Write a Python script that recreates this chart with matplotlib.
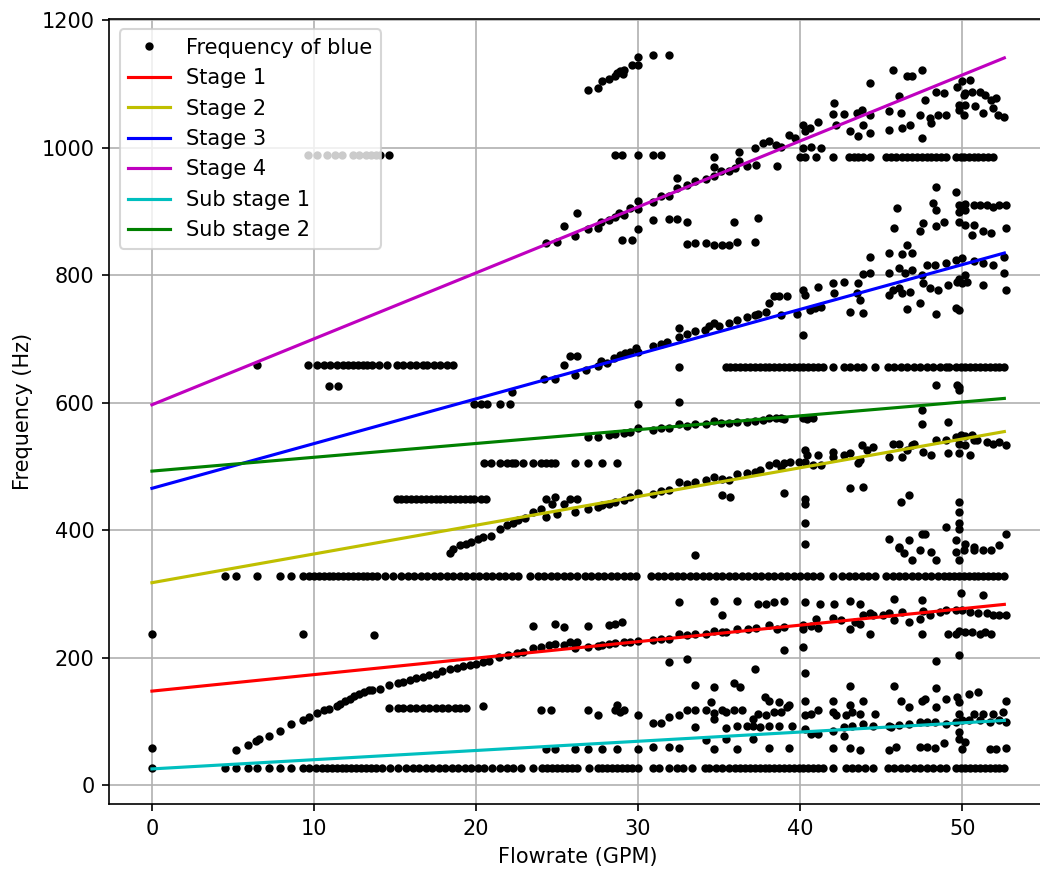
import matplotlib
matplotlib.use("Agg")
import matplotlib.pyplot as plt

# Fitted stage lines: flowrate at both ends and frequency there
line_x = [0.0, 52.6]
stage1 = [148, 284]
stage2 = [318, 555]
stage3 = [466, 835]
stage4 = [597, 1141]
sub_stage1 = [26, 102]
sub_stage2 = [493, 607]

# Steady tones picked up at many flowrates (frequency, flowrates)
tone_28_x = [0, 4.5, 5.2, 5.9, 6.5, 7.2, 7.9, 8.6, 9.3, 9.7, 10.1, 10.5, 10.8, 11.1, 11.4,
             11.7, 12.0, 12.3, 12.6, 12.9, 13.2, 13.5, 13.8, 14.2, 14.7, 15.2, 15.7, 16.1,
             16.5, 16.9, 17.3, 17.7, 18.1, 18.5, 18.9, 19.3, 19.7, 20.1, 20.5, 21.0, 21.5,
             21.9, 22.3, 22.8, 23.5, 24.1, 24.4, 24.7, 25.0, 25.3, 25.6, 25.9, 26.2, 27.0,
             27.5, 27.8, 28.1, 28.4, 28.7, 29.0, 29.3, 29.6, 30.0, 30.9, 31.3, 31.9, 32.4,
             32.8, 33.3, 34.1, 34.4, 34.8, 35.2, 35.6, 36.0, 36.3, 36.6, 36.9, 37.2, 37.5,
             37.8, 38.1, 38.4, 38.7, 39.0, 39.3, 39.6, 39.9, 40.2, 40.5, 40.8, 41.1, 41.4,
             42.0, 42.8, 43.2, 43.6, 44.0, 44.5, 45.4, 45.8, 46.2, 46.6, 47.0, 47.4, 47.8,
             48.2, 48.6, 49.0, 49.6, 49.9, 50.2, 50.5, 50.8, 51.1, 51.4, 51.7, 52.0, 52.3, 52.6]
tone_28_y = 28

tone_328_x = [4.5, 5.2, 6.5, 7.9, 8.6, 9.3, 9.7, 10.0, 10.3, 10.6, 10.9, 11.2, 11.5, 11.8,
              12.1, 12.4, 12.7, 13.0, 13.3, 13.6, 13.9, 14.4, 14.9, 15.4, 15.8, 16.2, 16.6,
              17.0, 17.4, 17.8, 18.2, 18.6, 19.0, 19.4, 19.8, 20.2, 20.6, 21.0, 21.4, 21.8,
              22.2, 22.6, 23.3, 23.8, 24.2, 24.6, 25.0, 25.4, 25.8, 26.2, 26.7, 27.1, 27.5,
              27.9, 28.3, 28.7, 29.1, 29.5, 29.9, 30.8, 31.2, 31.6, 32.0, 32.4, 32.8, 33.2,
              33.6, 34.0, 34.4, 34.8, 35.2, 35.6, 36.0, 36.4, 36.8, 37.2, 37.6, 38.0, 38.4,
              38.8, 39.2, 39.6, 40.0, 40.4, 40.8, 41.2, 42.0, 42.6, 43.0, 43.4, 43.8, 44.2,
              44.6, 45.3, 45.7, 46.1, 46.5, 46.9, 47.3, 47.7, 48.1, 48.5, 48.9, 49.2, 49.5,
              49.8, 50.1, 50.4, 50.7, 51.0, 51.3, 51.6, 51.9, 52.2, 52.6]
tone_328_y = 328

tone_121_x = [14.6, 15.2, 15.5, 15.9, 16.3, 16.7, 17.1, 17.5, 17.9, 18.3, 18.7, 19.0, 19.4]
tone_121_y = 121

tone_450_x = [15.1, 15.4, 15.7, 16.0, 16.3, 16.6, 16.9, 17.2, 17.5, 17.8, 18.1, 18.4, 18.7,
              19.0, 19.3, 19.6, 19.9, 20.3, 20.6]
tone_450_y = 450

tone_506_x = [20.5, 20.9, 21.5, 21.9, 22.2, 22.4, 22.9, 23.5, 24.0, 24.3, 24.6, 24.9, 26.1,
              26.9, 27.8, 28.7]
tone_506_y = 506

tone_599_x = [19.9, 20.3, 20.7, 21.5, 22.1, 30.0]
tone_599_y = 599

tone_656_x = [32.5, 35.4, 35.7, 36.0, 36.3, 36.6, 36.9, 37.2, 37.5, 37.8, 38.1, 38.4, 38.7,
              39.0, 39.3, 39.6, 39.9, 40.2, 40.5, 40.8, 41.1, 41.4, 42.0, 42.7, 43.1, 43.5,
              43.9, 44.6, 45.4, 45.8, 46.2, 46.6, 47.0, 47.4, 47.8, 48.2, 48.6, 49.0, 49.2,
              49.6, 49.9, 50.2, 50.5, 50.8, 51.1, 51.4, 51.7, 52.0, 52.3, 52.6]
tone_656_y = 656

tone_659_x = [6.5, 9.6, 10.2, 10.6, 11.0, 11.4, 11.8, 12.1, 12.4, 12.7, 13.0, 13.3, 13.6,
              14.0, 14.5, 15.1, 15.5, 15.9, 16.3, 16.7, 17.0, 17.4, 17.8, 18.2, 18.6]
tone_659_y = 659

tone_989_x = [9.6, 10.2, 10.8, 11.3, 11.7, 12.4, 12.8, 13.2, 13.5, 13.8, 14.1, 14.6,
              28.6, 29.0, 30.0, 30.9, 31.4]
tone_989_y = 989

tone_985_x = [34.7, 40.0, 40.3, 41.0, 42.0, 43.0, 43.3, 43.6, 43.9, 44.3, 45.3, 45.6, 45.9,
              46.3, 46.6, 46.9, 47.2, 47.5, 47.8, 48.1, 48.4, 48.7, 49.0, 49.6, 49.9, 50.1,
              50.4, 50.7, 51.0, 51.3, 51.6, 51.9]
tone_985_y = 985

# Tracked peaks (flowrate, frequency)
rising_pts = [(5.2, 56), (5.9, 63), (6.4, 70), (6.6, 73), (7.2, 77), (7.9, 86), (8.6, 96),
              (9.3, 102), (9.7, 107), (10.2, 114), (10.6, 118), (10.9, 120), (11.4, 125),
              (11.6, 128), (11.9, 132), (12.2, 136), (12.5, 140), (12.8, 144), (13.1, 147),
              (13.4, 149), (13.6, 149), (14.1, 152), (14.6, 157), (15.2, 161), (15.5, 163),
              (15.9, 166), (16.3, 168), (16.7, 170), (17.1, 173), (17.5, 175), (17.9, 179),
              (18.4, 182), (18.8, 184), (19.2, 187), (19.6, 189), (20.0, 191), (20.4, 194),
              (20.8, 196), (21.4, 201), (22.0, 205), (22.5, 208), (22.9, 210), (23.5, 215),
              (24.0, 217), (24.5, 220), (24.9, 222), (25.4, 221), (25.8, 225), (26.2, 225),
              (26.1, 215), (26.9, 217), (27.5, 219), (27.8, 221), (28.2, 222), (28.6, 224),
              (29.1, 225), (29.5, 225), (30.0, 226), (30.9, 228), (31.4, 229), (31.9, 230),
              (32.5, 237), (33.0, 236), (33.5, 237), (34.2, 237), (34.7, 242), (35.2, 240)]

stage1_pts = [(23.5, 250), (24.9, 254), (25.4, 249), (26.9, 250), (28.2, 252), (28.6, 254),
              (29.0, 257), (32.5, 288), (34.7, 289), (35.2, 267), (31.9, 194), (33.0, 198),
              (33.5, 158), (34.7, 154), (34.5, 131), (33.5, 362), (20.4, 125),
              (36.1, 290), (37.4, 284), (37.9, 285), (38.4, 287), (39.0, 289), (40.3, 287),
              (41.2, 284), (42.1, 285), (43.1, 289), (43.7, 284), (45.8, 293), (47.5, 291),
              (49.9, 302), (51.3, 299),
              (35.4, 240), (36.1, 246), (36.8, 246), (37.3, 247), (38.1, 251), (38.6, 245),
              (39.0, 249), (40.2, 251), (40.2, 246), (40.7, 250), (41.0, 261), (41.1, 247),
              (42.0, 263), (42.5, 259), (43.1, 246), (43.4, 257), (43.7, 254), (43.9, 268),
              (44.3, 270), (44.5, 267), (45.1, 267), (45.5, 270), (45.8, 259), (46.3, 272),
              (46.7, 257), (47.4, 261), (47.6, 273), (48.0, 267), (48.6, 272), (49.0, 275),
              (49.6, 275), (50.0, 275), (50.5, 272), (51.0, 270), (51.5, 270), (51.9, 268),
              (52.3, 267), (52.7, 267),
              (39.0, 212), (40.2, 217), (44.3, 237), (47.5, 237), (49.1, 237), (49.6, 238),
              (49.8, 243), (50.2, 240), (50.6, 240), (51.1, 238), (51.4, 240), (51.8, 237),
              (49.8, 205), (48.4, 196)]

low_pts = [(0, 59), (0, 238), (9.3, 237), (13.7, 236),
           (40.3, 177), (37.2, 182), (35.9, 160), (36.3, 154), (43.1, 156), (45.8, 156),
           (48.4, 153), (37.8, 139), (38.1, 133), (38.7, 131), (39.3, 126), (40.3, 133),
           (42.0, 133), (43.1, 126), (43.9, 133), (46.2, 133), (46.7, 123), (47.5, 133),
           (47.7, 136), (48.4, 123), (49.0, 135), (49.7, 139), (49.8, 131), (50.4, 144),
           (51.0, 146), (52.7, 132),
           (35.4, 115), (35.9, 118), (36.4, 118), (37.1, 105), (37.4, 112), (37.9, 110),
           (38.4, 115), (38.8, 115), (39.2, 123), (40.3, 110), (40.7, 112), (41.1, 118),
           (42.0, 115), (42.2, 110), (42.8, 110), (43.2, 115), (43.7, 112), (44.6, 112),
           (45.6, 92), (49.8, 112), (50.7, 112), (51.3, 112), (51.9, 112), (52.5, 115),
           (24.0, 118), (24.6, 118), (26.9, 118), (27.5, 110), (28.6, 118), (28.7, 126),
           (29.1, 118), (28.9, 115), (30.0, 110), (30.9, 98), (31.4, 98), (31.9, 107),
           (32.5, 110), (33.0, 118), (33.5, 118), (33.5, 92), (34.2, 118), (34.7, 113),
           (34.7, 105), (35.2, 118),
           (35.4, 90), (36.1, 94), (36.7, 94), (37.1, 94), (37.5, 92), (38.1, 94), (38.7, 94),
           (39.5, 94), (40.3, 88), (40.7, 81), (41.1, 81), (42.0, 86), (42.7, 92), (43.2, 94),
           (43.9, 97), (44.5, 94), (45.5, 94), (46.1, 95), (46.7, 97), (47.4, 99), (47.8, 99),
           (48.3, 99), (49.0, 97), (49.6, 100), (50.0, 102), (50.4, 102), (51.1, 102),
           (51.7, 99), (52.3, 102), (52.7, 100),
           (49.8, 73), (50.2, 68), (50.0, 57), (49.8, 84),
           (35.4, 73), (36.1, 58), (37.1, 73), (38.1, 59), (39.3, 59), (42.7, 78), (42.0, 59),
           (43.1, 59), (43.7, 55), (45.5, 55), (45.9, 60), (47.4, 60), (47.8, 60), (48.3, 59),
           (48.9, 67), (51.7, 57), (52.1, 57), (52.7, 59),
           (24.3, 58), (24.9, 58), (26.1, 58), (26.9, 58), (27.8, 58), (28.7, 58), (30.0, 58),
           (30.9, 60), (31.9, 60), (32.5, 59), (34.2, 72), (34.7, 58)]

mid_pts = [(46.1, 372), (46.4, 364), (46.9, 353), (47.4, 369), (48.1, 366), (48.4, 353),
           (49.6, 366), (49.8, 353), (50.1, 369), (50.7, 369), (51.3, 369), (51.8, 369),
           (52.3, 377), (45.5, 387), (46.1, 374), (46.7, 385), (47.5, 395), (47.7, 395),
           (49.0, 405), (49.6, 385), (50.2, 379), (50.7, 374), (52.7, 395),
           (49.8, 445), (49.8, 429), (49.8, 411), (49.8, 403), (40.3, 450), (40.3, 442),
           (40.3, 412), (40.3, 379), (40.2, 706), (35.7, 453), (39.0, 458), (43.1, 466),
           (43.9, 468), (46.2, 445), (46.7, 455), (35.2, 455), (10.9, 627), (11.5, 627),
           (32.5, 602)]

stage2_pts = [(18.4, 365), (18.6, 371), (19.0, 377), (19.4, 379), (19.7, 382), (20.1, 386),
              (20.4, 390), (20.9, 392), (21.5, 403), (21.9, 408), (22.3, 412), (22.6, 416),
              (23.0, 419), (23.5, 429), (24.0, 433), (24.3, 421), (24.3, 450), (24.7, 442),
              (24.9, 453), (25.0, 426), (25.4, 442), (25.8, 450), (26.2, 450), (26.1, 429),
              (26.9, 434), (27.5, 437), (27.8, 440), (28.2, 441), (28.6, 445), (29.1, 447),
              (29.5, 453), (30.0, 458), (30.9, 457), (31.4, 462), (31.9, 464), (32.5, 476),
              (33.0, 472), (33.5, 476), (34.2, 479), (34.7, 484), (35.2, 480),
              (35.6, 479), (36.1, 489), (36.7, 490), (37.2, 492), (37.5, 495), (38.1, 502),
              (38.5, 505), (38.8, 500), (39.0, 506), (39.4, 508), (39.9, 508), (40.3, 508),
              (40.3, 526), (40.4, 518), (40.8, 502), (41.1, 518), (41.3, 502), (42.0, 523),
              (42.0, 515), (42.7, 518), (43.1, 521), (43.6, 505), (43.7, 510), (43.8, 534),
              (44.1, 526), (44.5, 531), (45.5, 515), (45.7, 536), (46.1, 536), (46.3, 515),
              (46.6, 526), (46.9, 534), (47.0, 536), (47.6, 523), (48.1, 518), (48.4, 542),
              (49.0, 542), (49.1, 521), (49.6, 547), (49.8, 521), (49.9, 549), (50.2, 548),
              (50.6, 549), (50.5, 518), (50.9, 542), (51.5, 539), (51.9, 536), (52.3, 539),
              (52.7, 534), (49.8, 536), (50.2, 534), (50.7, 542)]

sub2_pts = [(26.9, 547), (27.5, 547), (28.2, 549), (28.6, 551), (29.1, 553), (29.5, 555),
            (30.0, 560), (30.9, 558), (31.4, 560), (31.9, 560), (32.5, 567), (33.0, 564),
            (33.5, 567), (34.2, 567), (34.7, 572), (35.1, 569), (35.6, 569), (36.1, 570),
            (36.7, 570), (37.2, 572), (37.7, 573), (38.1, 576), (38.5, 577), (38.8, 576),
            (39.0, 574), (40.2, 577), (40.4, 574), (40.8, 577), (47.5, 589), (47.5, 567),
            (49.1, 570), (48.4, 628), (49.7, 628), (49.8, 620), (49.8, 625)]

stage3_pts = [(22.2, 617), (24.2, 638), (24.9, 638), (25.4, 659), (25.8, 673), (26.2, 673),
              (26.1, 644), (26.8, 651), (27.5, 658), (27.7, 665), (28.1, 662), (28.5, 670),
              (28.9, 675), (29.2, 678), (29.5, 680), (29.9, 686), (30.0, 679), (30.9, 689),
              (31.4, 693), (31.8, 696), (32.5, 703), (32.5, 717), (33.0, 708), (33.5, 712),
              (34.1, 714), (34.4, 720), (34.7, 725), (35.0, 720),
              (35.6, 725), (36.1, 730), (36.7, 734), (37.2, 738), (37.4, 740), (37.9, 743),
              (38.1, 756), (38.4, 767), (38.7, 767), (38.8, 738), (39.2, 767), (39.8, 740),
              (40.2, 777), (40.3, 769), (40.6, 746), (40.9, 748), (41.1, 782), (41.3, 751),
              (42.0, 788), (42.1, 772), (42.7, 790), (43.1, 743), (43.5, 772), (43.6, 788),
              (43.7, 761), (43.9, 741), (45.5, 769), (45.7, 777), (46.1, 780), (46.3, 772),
              (46.6, 747), (46.8, 774), (47.4, 756), (47.6, 788), (48.0, 780), (48.4, 740),
              (48.5, 777), (49.1, 785), (49.6, 748), (49.7, 790), (49.8, 746), (50.0, 788),
              (50.3, 790), (51.3, 785), (52.7, 777),
              (43.9, 802), (44.3, 803), (44.3, 828), (45.5, 803), (45.5, 835), (46.1, 811),
              (46.3, 833), (46.6, 848), (46.5, 803), (46.9, 808), (46.9, 835), (47.5, 801),
              (47.8, 816), (48.3, 816), (49.0, 819), (49.6, 824), (50.0, 827), (49.8, 795),
              (50.2, 801), (50.7, 822), (51.3, 819), (51.9, 816), (52.6, 829), (52.6, 803)]

stage4_pts = [(24.3, 850), (25.0, 853), (25.4, 877), (26.1, 861), (26.2, 898), (26.9, 872),
              (27.5, 875), (27.7, 884), (28.2, 887), (28.6, 892), (28.8, 897), (29.1, 895),
              (29.5, 905), (30.0, 916), (30.0, 904), (30.9, 915), (31.4, 924), (31.9, 925),
              (32.4, 937), (32.4, 953), (33.0, 942), (33.5, 948), (34.2, 951), (34.7, 970),
              (34.7, 956), (35.1, 963),
              (29.0, 856), (29.6, 856), (30.0, 872), (30.9, 887), (31.9, 889), (32.4, 889),
              (33.0, 884), (33.0, 849), (33.5, 850), (34.2, 850), (34.7, 848), (35.2, 847),
              (35.6, 848), (36.1, 853), (37.2, 853), (35.9, 884), (37.4, 890),
              (35.6, 963), (36.0, 968), (36.2, 979), (36.2, 994), (36.7, 971), (37.2, 1000),
              (37.3, 973), (37.7, 1007), (38.1, 1010), (38.5, 1005), (38.6, 972), (38.8, 1002),
              (39.3, 1020), (39.7, 1015), (40.2, 1036), (40.3, 1026), (40.6, 1031), (40.2, 1000),
              (40.7, 1002), (41.1, 1041), (41.3, 1000), (42.0, 1053), (42.1, 1070), (42.2, 1036),
              (42.7, 1053), (43.1, 1026), (43.5, 1054), (43.6, 1018), (43.8, 1060), (43.9, 1036),
              (44.3, 1052), (44.3, 1102), (44.3, 1023), (45.5, 1057), (45.5, 1028), (45.7, 1122),
              (46.1, 1081), (46.2, 1054), (46.3, 1031), (46.6, 1112), (46.8, 1036), (46.9, 1112),
              (47.4, 1052), (47.5, 1122), (47.5, 1015), (47.7, 1075), (48.0, 1047), (48.1, 1039),
              (48.4, 1088), (48.5, 1052), (48.9, 1086), (49.0, 1052), (49.7, 1096), (49.8, 1060),
              (50.0, 1104), (50.1, 1052), (50.5, 1107), (50.2, 1086), (50.6, 1088), (50.8, 1065),
              (51.1, 1088), (51.3, 1054), (51.4, 1083), (51.8, 1075), (51.9, 1062), (52.1, 1078),
              (52.2, 1052), (52.6, 1049), (49.8, 1067), (50.2, 1067), (50.1, 1083),
              (48.4, 939), (49.6, 930), (46.0, 906), (48.2, 913), (48.4, 903), (47.6, 882),
              (48.4, 878), (48.9, 884), (45.8, 874), (47.4, 869), (49.8, 910), (50.2, 912),
              (50.7, 910), (51.1, 911), (51.5, 910), (51.9, 907), (52.3, 910), (52.7, 910),
              (49.8, 900), (50.2, 902), (49.8, 884), (50.2, 879), (50.7, 879), (51.3, 869),
              (51.8, 866), (50.6, 863), (52.7, 875)]

high_pts = [(26.9, 1091), (27.5, 1094), (27.8, 1105), (28.2, 1108), (28.6, 1113), (28.7, 1117),
            (28.9, 1121), (29.1, 1122), (29.05, 1115), (29.6, 1130), (30.0, 1142), (30.0, 1130),
            (30.9, 1146), (31.9, 1146)]

tones = [(tone_28_x, tone_28_y), (tone_328_x, tone_328_y), (tone_121_x, tone_121_y),
         (tone_450_x, tone_450_y), (tone_506_x, tone_506_y), (tone_599_x, tone_599_y),
         (tone_656_x, tone_656_y), (tone_659_x, tone_659_y), (tone_989_x, tone_989_y),
         (tone_985_x, tone_985_y)]
peaks = [rising_pts, stage1_pts, low_pts, mid_pts, stage2_pts, sub2_pts,
         stage3_pts, stage4_pts, high_pts]

freq_x, freq_y = [], []
for xs, f in tones:
    freq_x += xs
    freq_y += [f] * len(xs)
for group in peaks:
    for q, f in group:
        freq_x.append(q)
        freq_y.append(f)

fig = plt.figure(figsize=(1040 / 150, 875 / 150), dpi=150)
ax = fig.add_axes([0.1051, 0.0808, 0.9016, 0.8975])

ax.plot(freq_x, freq_y, 'k.', label='Frequency of blue')
ax.plot(line_x, stage1, 'r', label='Stage 1')
ax.plot(line_x, stage2, 'y', label='Stage 2')
ax.plot(line_x, stage3, 'b', label='Stage 3')
ax.plot(line_x, stage4, 'm', label='Stage 4')
ax.plot(line_x, sub_stage1, 'c', label='Sub stage 1')
ax.plot(line_x, sub_stage2, 'g', label='Sub stage 2')

ax.set_xlim(-2.63, 55.23)
ax.set_ylim(-29.5, 1202)
ax.set_xticks([0, 10, 20, 30, 40, 50])
ax.set_yticks([0, 200, 400, 600, 800, 1000, 1200])
ax.grid(True)
ax.set_xlabel('Flowrate (GPM)')
ax.set_ylabel('Frequency (Hz)')
ax.legend(loc='upper left')

fig.savefig('out.png', dpi=150)
